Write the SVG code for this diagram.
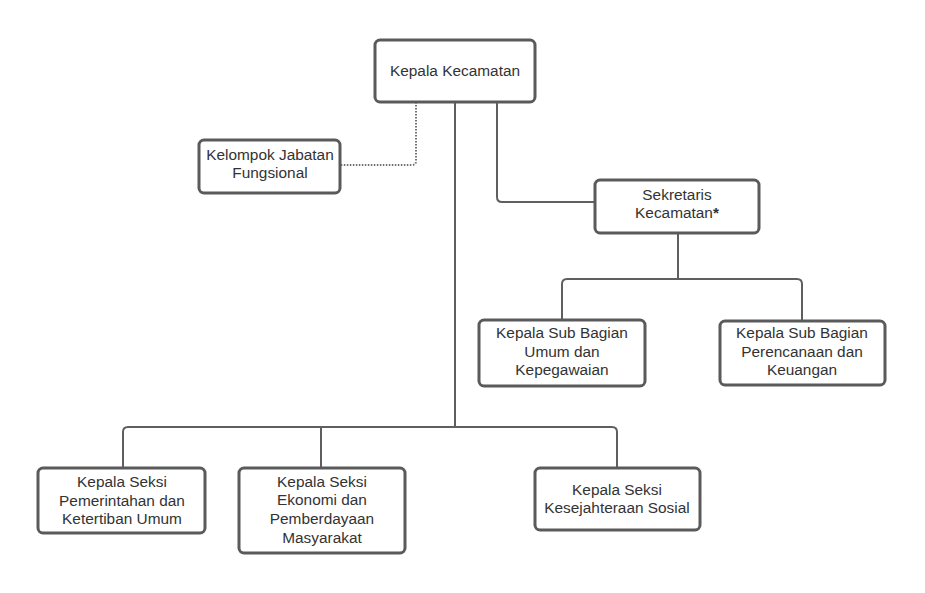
<svg xmlns="http://www.w3.org/2000/svg" width="925" height="593" viewBox="0 0 925 593">
<style>
.box{fill:#fff;stroke:#5a5a5a;stroke-width:3}
.t{font-family:"Liberation Sans",Arial,sans-serif;font-size:15.4px;fill:#333;text-anchor:middle}
.c{fill:none;stroke:#5f5f5f;stroke-width:2}
.d{fill:none;stroke:#707070;stroke-width:2;stroke-dasharray:1.5 1.5}
</style>
<rect width="925" height="593" fill="#fff"/>
<g id="connectors">
<path class="c" d="M455 102 V427"/>
<path class="c" d="M123 468 V432 Q123 427 128 427 H612 Q617 427 617 432 V468"/>
<path class="c" d="M321 427 V468"/>
<path class="c" d="M497 102 V197 Q497 202 502 202 H595"/>
<path class="c" d="M678 233 V279"/>
<path class="c" d="M562 320 V284 Q562 279 567 279 H797 Q802 279 802 284 V321"/>
<path class="d" d="M416 102 V161 Q416 165 412 165 H340"/>
</g>
<g id="kepala">
<rect class="box" x="375" y="40" width="160" height="62" rx="5"/>
<text class="t" x="455" y="76">Kepala Kecamatan</text>
</g>
<g id="kelompok">
<rect class="box" x="199" y="140" width="141" height="53" rx="5"/>
<text class="t" x="270" y="160">Kelompok Jabatan</text>
<text class="t" x="270" y="178">Fungsional</text>
</g>
<g id="sekretaris">
<rect class="box" x="595" y="180" width="164" height="53" rx="5"/>
<text class="t" x="677" y="200">Sekretaris</text>
<text class="t" x="677" y="218">Kecamatan<tspan font-weight="bold">*</tspan></text>
</g>
<g id="subumum">
<rect class="box" x="479" y="320" width="166" height="66" rx="5"/>
<text class="t" x="562" y="338">Kepala Sub Bagian</text>
<text class="t" x="562" y="357">Umum dan</text>
<text class="t" x="562" y="375">Kepegawaian</text>
</g>
<g id="subperencanaan">
<rect class="box" x="720" y="321" width="165" height="64" rx="5"/>
<text class="t" x="802" y="338">Kepala Sub Bagian</text>
<text class="t" x="802" y="357">Perencanaan dan</text>
<text class="t" x="802" y="375">Keuangan</text>
</g>
<g id="seksipemerintahan">
<rect class="box" x="38" y="468" width="167" height="65" rx="5"/>
<text class="t" x="122" y="487">Kepala Seksi</text>
<text class="t" x="122" y="506">Pemerintahan dan</text>
<text class="t" x="122" y="524">Ketertiban Umum</text>
</g>
<g id="seksiekonomi">
<rect class="box" x="239" y="468" width="166" height="85" rx="5"/>
<text class="t" x="322" y="487">Kepala Seksi</text>
<text class="t" x="322" y="505">Ekonomi dan</text>
<text class="t" x="322" y="524">Pemberdayaan</text>
<text class="t" x="322" y="543">Masyarakat</text>
</g>
<g id="seksikesejahteraan">
<rect class="box" x="535" y="468" width="165" height="62" rx="5"/>
<text class="t" x="617" y="495">Kepala Seksi</text>
<text class="t" x="617" y="513">Kesejahteraan Sosial</text>
</g>
</svg>
